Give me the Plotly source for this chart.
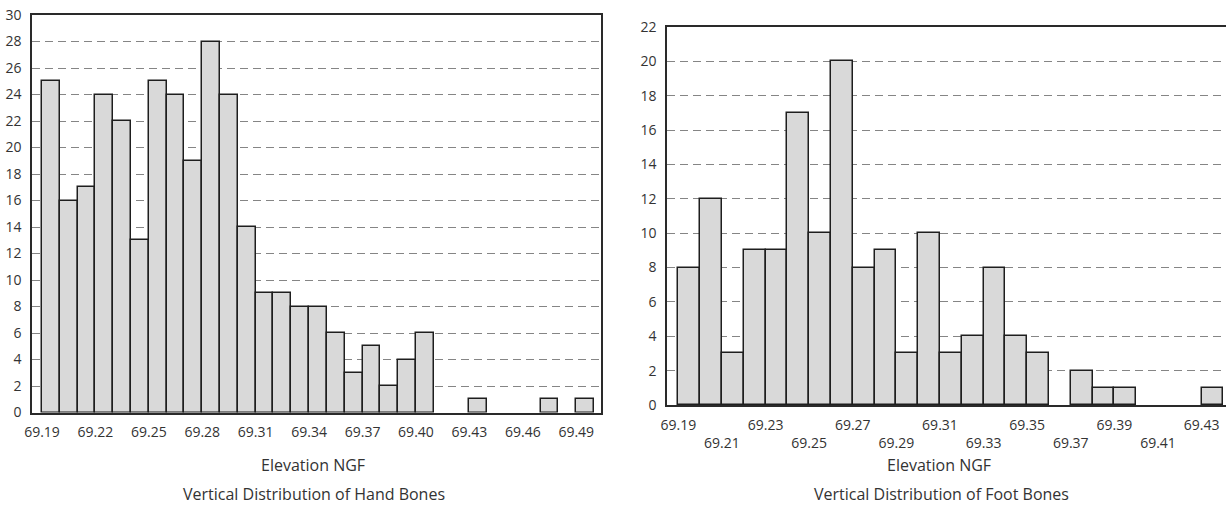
import plotly.graph_objects as go

# ---- data ----
hand_start = 69.19
hand_counts = [25, 16, 17, 24, 22, 13, 25, 24, 19, 28, 24, 14, 9, 9, 8, 8, 6, 3, 5, 2, 4, 6,
               0, 0, 1, 0, 0, 0, 1, 0, 1]
hand_ticks = ["69.19", "69.22", "69.25", "69.28", "69.31", "69.34", "69.37", "69.40",
              "69.43", "69.46", "69.49"]

foot_start = 69.19
foot_counts = [8, 12, 3, 9, 9, 17, 10, 20, 8, 9, 3, 10, 3, 4, 8, 4, 3, 0, 2, 1, 1, 0, 0, 0, 1]
foot_ticks = ["69.19", "69.21", "69.23", "69.25", "69.27", "69.29", "69.31", "69.33",
              "69.35", "69.37", "69.39", "69.41", "69.43"]

bin_w = 0.01

W, H = 1226, 505
FONT = "Open Sans"
TXT = "#333333"
FS = 14
FS_T = 16


def bars(start, counts, xa, ya):
    xs, ys = [], []
    for i, c in enumerate(counts):
        if c > 0:
            xs.append(round(start + bin_w * i + bin_w / 2, 4))
            ys.append(c)
    return go.Bar(x=xs, y=ys, width=bin_w, xaxis=xa, yaxis=ya,
                  marker=dict(color="#d9d9d9", line=dict(color="#1e1e1e", width=1.5)),
                  showlegend=False, hoverinfo="x+y")


fig = go.Figure()
fig.add_trace(bars(hand_start, hand_counts, "x", "y"))
fig.add_trace(bars(foot_start, foot_counts, "x2", "y2"))

# tick values from tick labels
hand_tv = [float(t) for t in hand_ticks]
foot_tv = [float(t) for t in foot_ticks]
foot_tt = [t if k % 2 == 0 else "<br>" + t for k, t in enumerate(foot_ticks)]

axis_common = dict(showline=True, linecolor="#2a2a2a", linewidth=1.5, ticks="",
                   tickfont=dict(family=FONT, size=FS, color=TXT), zeroline=False,
                   automargin=False)

# pixel geometry
L1, R1, T1, B1 = 32, 601, 15, 412.5
L2, R2, T2, B2 = 667, 1226, 27, 405

fig.update_layout(
    width=W, height=H, margin=dict(l=0, r=0, t=0, b=0),
    paper_bgcolor="white", plot_bgcolor="white", bargap=0,
    font=dict(family=FONT, size=FS, color=TXT),
    xaxis=dict(domain=[L1 / W, R1 / W], range=[69.1844, 69.5039], anchor="y",
               tickvals=hand_tv, ticktext=hand_ticks, showgrid=False, mirror=True,
               ticklabelstandoff=6, **axis_common),
    yaxis=dict(domain=[1 - B1 / H, 1 - T1 / H], range=[0, 30], dtick=2, anchor="x",
               showgrid=True, gridcolor="#858585", gridwidth=1.4, griddash="8px,5px",
               mirror=True, ticklabelstandoff=6, **axis_common),
    xaxis2=dict(domain=[L2 / W, R2 / W], range=[69.1848, 69.4412], anchor="y2",
                tickvals=foot_tv, ticktext=foot_tt, showgrid=False, mirror=True,
                ticklabelstandoff=6, **axis_common),
    yaxis2=dict(domain=[1 - B2 / H, 1 - T2 / H], range=[0, 22], dtick=2, anchor="x2",
                showgrid=True, gridcolor="#858585", gridwidth=1.4, griddash="8px,5px",
                mirror=False, ticklabelstandoff=6, **axis_common),
)

ann = [
    ("Elevation NGF", (L1 + R1) / 2 - 4, 465),
    ("Vertical Distribution of Hand Bones", (L1 + R1) / 2 - 3, 494),
    ("Elevation NGF", 939, 465),
    ("Vertical Distribution of Foot Bones", 941, 494),
]
for text, px, py in ann:
    fig.add_annotation(text=text, x=px / W, y=1 - py / H, xref="paper", yref="paper",
                       showarrow=False, xanchor="center", yanchor="middle",
                       font=dict(family=FONT, size=FS_T, color=TXT))

fig.write_html(
    "out.html",
    config={"displayModeBar": False},
    post_script="document.body.style.margin='0px';document.body.style.overflow='hidden';",
)
